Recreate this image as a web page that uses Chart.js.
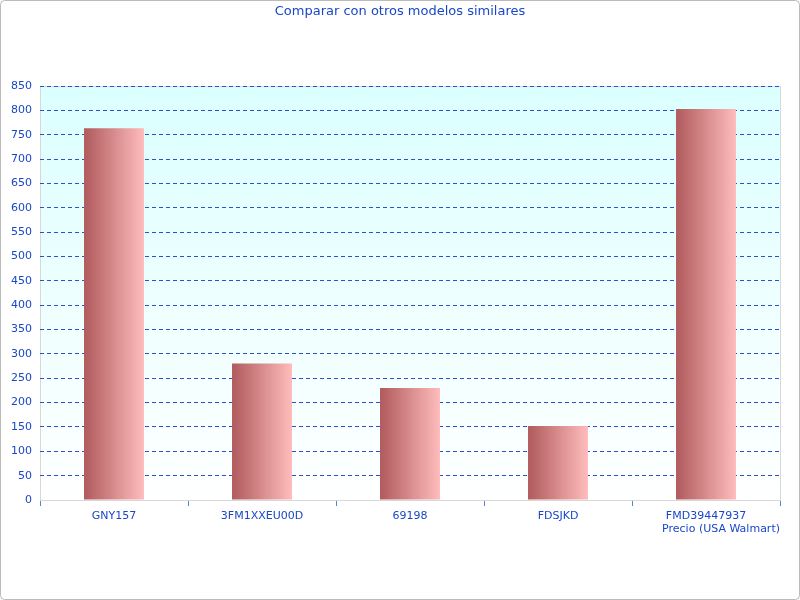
<!DOCTYPE html>
<html>
<head>
<meta charset="utf-8">
<script src="https://cdn.jsdelivr.net/npm/chart.js@4"></script>
<style>
  body { margin: 0; background: #fff; }
  #wrap { width: 800px; height: 600px; position: relative; }
</style>
</head>
<body>
<div id="wrap"><canvas id="c" width="800" height="600"></canvas></div>
<script>
const modelos = ["GNY157", "3FM1XXEU00D", "69198", "FDSJKD", "FMD39447937"];
const precios = [763, 280, 230, 152, 803];
const titulo = "Comparar con otros modelos similares";
const tituloEje = "Precio (USA Walmart)";
const azul = "#1a47c8";
const fuente = "'DejaVu Sans', Verdana, sans-serif";

// fondo degradado, marco y título
const decor = {
  id: "decor",
  beforeDraw(chart) {
    const { ctx, chartArea: a } = chart;
    ctx.save();
    ctx.fillStyle = "#fff";
    ctx.fillRect(0, 0, chart.width, chart.height);
    const g = ctx.createLinearGradient(0, a.top, 0, a.bottom);
    g.addColorStop(0, "#dbffff");
    g.addColorStop(1, "#ffffff");
    ctx.fillStyle = g;
    ctx.fillRect(a.left, a.top, a.right - a.left, a.bottom - a.top);
    ctx.strokeStyle = "#d8d8d8";
    ctx.lineWidth = 1;
    ctx.strokeRect(a.left + 0.5, a.top + 0.5, a.right - a.left, a.bottom - a.top);
    ctx.strokeStyle = "#bbbbbb";
    ctx.beginPath();
    ctx.roundRect(0.5, 0.5, chart.width - 1, chart.height - 1, 4);
    ctx.stroke();
    ctx.fillStyle = azul;
    ctx.font = "13px " + fuente;
    ctx.textAlign = "center";
    ctx.textBaseline = "middle";
    ctx.fillText(titulo, chart.width / 2, 12);
    ctx.restore();
  }
};

function colorBarra(c) {
  const chart = c.chart;
  const x = chart.scales.x;
  if (!x || !chart.chartArea) return "#d88";
  const cx = x.getPixelForValue(c.dataIndex);
  const w = 60;
  const g = chart.ctx.createLinearGradient(cx - w / 2, 0, cx + w / 2, 0);
  g.addColorStop(0, "#b05a5c");
  g.addColorStop(1, "#ffbcbc");
  return g;
}

new Chart(document.getElementById("c"), {
  type: "bar",
  data: {
    labels: modelos,
    datasets: [{
      data: precios,
      backgroundColor: colorBarra,
      borderWidth: 0,
      barPercentage: 0.405,
      categoryPercentage: 1
    }]
  },
  options: {
    responsive: false,
    animation: false,
    layout: { padding: { top: 86, right: 20, left: 1, bottom: 60 } },
    plugins: { legend: { display: false }, title: { display: false }, tooltip: { enabled: false } },
    scales: {
      x: {
        afterFit(s) { s.height = 40; },
        grid: { offset: true, drawOnChartArea: false, color: "#5a7fd8", tickLength: 6 },
        border: { color: "#d8d8d8" },
        ticks: { color: azul, font: { family: fuente, size: 11 }, padding: 4 },
        title: { display: true, text: tituloEje, align: "end", color: azul, font: { family: fuente, size: 11 }, padding: { top: 2 } }
      },
      y: {
        min: 0, max: 850,
        afterFit(s) { s.width = 39; },
        ticks: { stepSize: 50, color: azul, font: { family: fuente, size: 11 }, padding: 8 },
        grid: { color: "#2a4fd0", drawTicks: false },
        border: { display: false, dash: [4, 3] }
      }
    }
  },
  plugins: [decor]
});
</script>
</body>
</html>
